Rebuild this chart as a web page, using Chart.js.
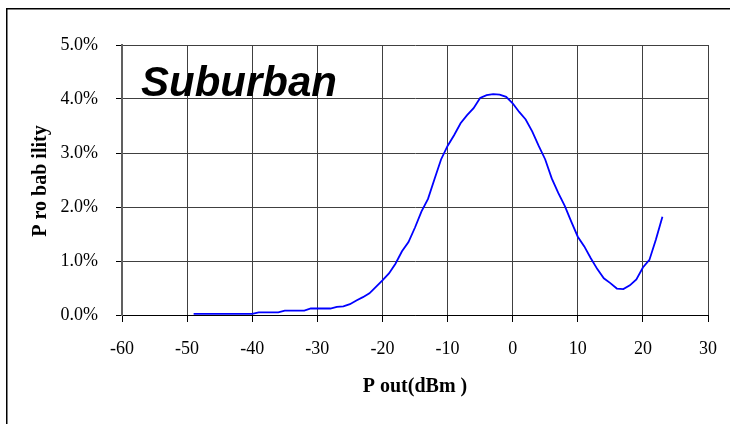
<!DOCTYPE html>
<html>
<head>
<meta charset="utf-8">
<script src="https://cdn.jsdelivr.net/npm/chart.js@4"></script>
<style>
  body { margin: 0; background: #fff; }
  #wrap { width: 730px; height: 424px; position: relative; }
</style>
</head>
<body>
<div id="wrap"><canvas id="chart" width="730" height="424"></canvas></div>
<script>
// output power (dBm) and probability (%)
const pout = [-49, -48, -47, -46, -45, -44, -43, -42, -41, -40, -39, -38, -37, -36, -35, -34, -33, -32, -31, -30,
  -29, -28, -27, -26, -25, -24, -23, -22, -21, -20, -19, -18, -17, -16, -15, -14, -13, -12, -11, -10,
  -9, -8, -7, -6, -5, -4, -3, -2, -1, 0, 1, 2, 3, 4, 5, 6, 7, 8, 9, 10,
  11, 12, 13, 14, 15, 16, 17, 18, 19, 20, 21, 22, 23];
const prob = [0.02, 0.02, 0.02, 0.02, 0.02, 0.02, 0.02, 0.02, 0.02, 0.02, 0.05, 0.05, 0.05, 0.05, 0.08, 0.08, 0.08, 0.08, 0.12, 0.12,
  0.12, 0.12, 0.15, 0.16, 0.20, 0.27, 0.33, 0.40, 0.52, 0.64, 0.77, 0.95, 1.18, 1.35, 1.62, 1.92, 2.15, 2.52, 2.88, 3.13,
  3.33, 3.55, 3.70, 3.83, 4.02, 4.07, 4.09, 4.08, 4.04, 3.92, 3.76, 3.62, 3.40, 3.13, 2.88, 2.53, 2.26, 2.02, 1.73, 1.45,
  1.27, 1.05, 0.85, 0.68, 0.59, 0.49, 0.48, 0.55, 0.66, 0.88, 1.02, 1.40, 1.82];

const xTicks = [-60, -50, -40, -30, -20, -10, 0, 10, 20, 30];
const yTicks = [0, 1, 2, 3, 4, 5];

const chartTitle = "Suburban";
const xTitle = "P out(dBm )";
const yTitle = "P ro bab ility";

const tickFont = { family: "'Liberation Serif', serif", size: 18 };
const gridColor = "#404040";

// frame, big label and axis titles
const decorations = {
  id: "decorations",
  afterDraw(chart) {
    const ctx = chart.ctx;
    ctx.save();
    ctx.fillStyle = "#000";
    ctx.fillRect(6, 8, 724, 1.5);
    ctx.fillRect(6, 8, 1.5, 416);

    ctx.font = "italic bold 42px 'Liberation Sans', Arial, sans-serif";
    ctx.textBaseline = "alphabetic";
    ctx.textAlign = "left";
    ctx.fillText(chartTitle, 141, 96);

    ctx.font = "bold 20px 'Liberation Serif', serif";
    ctx.textAlign = "center";
    ctx.textBaseline = "middle";
    ctx.fillText(xTitle, 415, 387);

    ctx.translate(41, 181);
    ctx.rotate(-Math.PI / 2);
    ctx.fillText(yTitle, 0, 0);
    ctx.restore();
  }
};

new Chart(document.getElementById("chart"), {
  type: "line",
  data: {
    datasets: [{
      data: pout.map((x, i) => ({ x, y: prob[i] })),
      borderColor: "#0000ff",
      borderWidth: 1.8,
      pointRadius: 0,
      tension: 0,
      fill: false
    }]
  },
  options: {
    responsive: false,
    animation: false,
    layout: { padding: { top: 45, right: 22, left: 0, bottom: 0 } },
    plugins: { legend: { display: false }, tooltip: { enabled: false } },
    scales: {
      x: {
        type: "linear",
        min: -60,
        max: 30,
        afterFit: s => { s.height = 109; s.paddingLeft = 0; s.paddingRight = 0; },
        afterBuildTicks: s => { s.ticks = xTicks.map(v => ({ value: v })); },
        ticks: { color: "#000", font: tickFont, padding: 16, maxRotation: 0 },
        grid: { color: gridColor, lineWidth: 1, tickLength: 7, tickColor: "#000" },
        border: { color: "#000", width: 1 }
      },
      y: {
        min: 0,
        max: 5,
        afterFit: s => { s.width = 122; s.paddingTop = 0; s.paddingBottom = 0; },
        afterBuildTicks: s => { s.ticks = yTicks.map(v => ({ value: v })); },
        ticks: { color: "#000", font: tickFont, padding: 18, callback: v => v.toFixed(1) + "%" },
        grid: { color: gridColor, lineWidth: 1, tickLength: 6, tickColor: "#000" },
        border: { color: "#606060", width: 2 }
      }
    }
  },
  plugins: [decorations]
});
</script>
</body>
</html>
